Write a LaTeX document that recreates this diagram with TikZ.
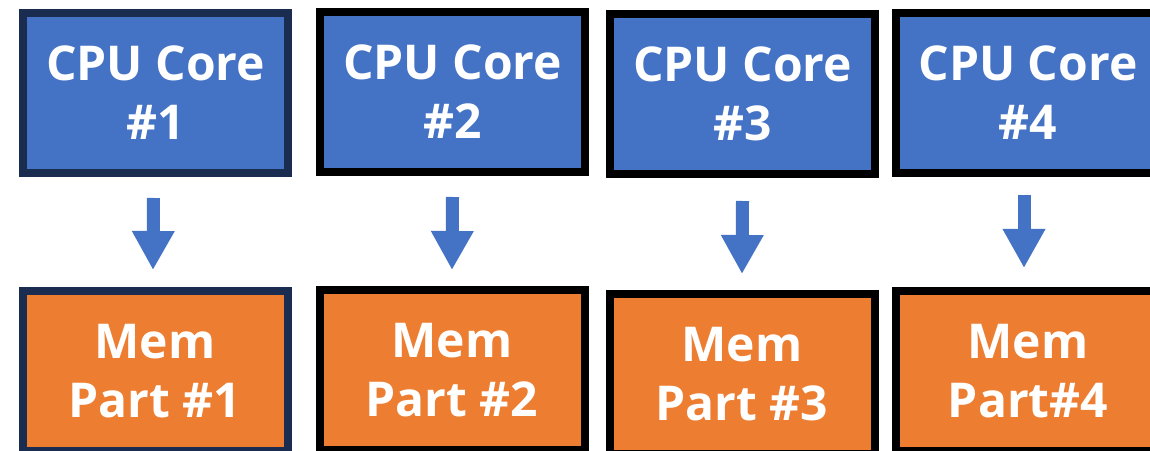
\documentclass[tikz,border=0pt]{standalone}
\usepackage{fontspec}
\setmainfont{Open Sans}
\usetikzlibrary{arrows.meta}
\definecolor{coreblue}{HTML}{4472C4}
\definecolor{memorange}{HTML}{ED7D31}
\definecolor{navy}{HTML}{1A2C50}
\tikzset{
  unitbox/.style={draw=black, line width=8pt, minimum width=265pt, minimum height=160pt,
    inner sep=0pt, align=center, text=white,
    font=\fontsize{48}{59}\selectfont\bfseries},
  corebox/.style={unitbox, fill=coreblue},
  membox/.style={unitbox, fill=memorange},
  firstunit/.style={draw=navy},
  blockarrow/.style={draw=coreblue, line width=13pt,
    -{Triangle[width=40pt,length=39pt,fill=coreblue]}}
}
\begin{document}
\begin{tikzpicture}[x=1pt,y=1pt]
  \useasboundingbox (0,0) rectangle (1150,450);
  \clip (0,0) rectangle (1150,450);
  \fill[white] (0,0) rectangle (1150,450);

  % CPU cores
  \node[corebox, firstunit] (c1) at (155.5,357) {CPU Core\\\#1};
  \node[corebox] (c2) at (452.5,358) {CPU Core\\\#2};
  \node[corebox] (c3) at (742.5,356) {CPU Core\\\#3};
  \node[corebox] (c4) at (1028,357) {CPU Core\\\#4};

  % memory partitions
  \node[membox, firstunit] (m1) at (155,79) {Mem\\Part \#1};
  \node[membox] (m2) at (452,80) {Mem\\Part \#2};
  \node[membox] (m3) at (742,76) {Mem\\Part \#3};
  \node[membox] (m4) at (1028,79) {Mem\\Part\#4};

  % core -> partition arrows
  \draw[blockarrow] ([xshift=-2pt,yshift=-21pt]c1.south) -- ([xshift=-2pt,yshift=17pt]m1.north);
  \draw[blockarrow] ([yshift=-21pt]c2.south) -- ([yshift=16pt]m2.north);
  \draw[blockarrow] ([yshift=-23pt]c3.south) -- ([yshift=16pt]m3.north);
  \draw[blockarrow] ([xshift=-4pt,yshift=-18pt]c4.south) -- ([xshift=-4pt,yshift=19pt]m4.north);
\end{tikzpicture}
\end{document}
